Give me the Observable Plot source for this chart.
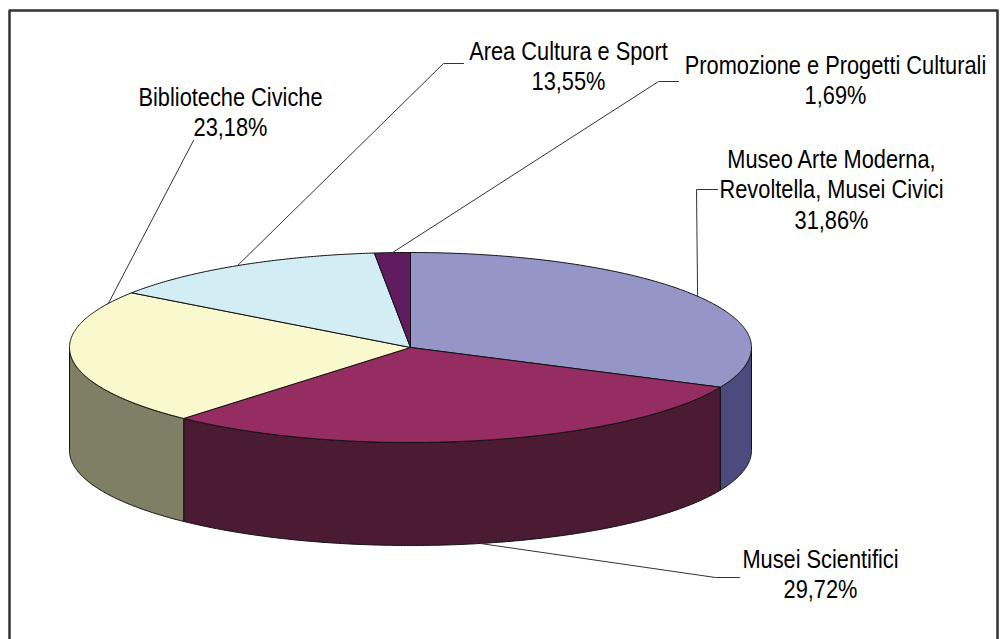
<!DOCTYPE html>
<html>
<head>
<meta charset="utf-8">
<script src="https://cdn.jsdelivr.net/npm/d3@7"></script>
<script src="https://cdn.jsdelivr.net/npm/@observablehq/plot@0.6"></script>
<style>
html, body { margin: 0; padding: 0; background: #fff; }
#chart { position: relative; width: 1005px; height: 639px; overflow: hidden; }
</style>
</head>
<body>
<div id="chart"></div>
<script>
// ---- data ----
const categories = [
  "Museo Arte Moderna,\nRevoltella, Musei Civici",
  "Musei Scientifici",
  "Biblioteche Civiche",
  "Area Cultura e Sport",
  "Promozione e Progetti Culturali"
];
const shares = [31.86, 29.72, 23.18, 13.55, 1.69];
const pctLabels = ["31,86%", "29,72%", "23,18%", "13,55%", "1,69%"];

// ---- styles ----
const topColors  = ["#9595C8", "#962D62", "#FAF9CE", "#D3EDF4", "#601C5E"];
const sideColors = ["#4B4B80", "#4B1A33", "#7F7F65", "#6A767A", "#300E2F"];

// ---- layout (pixels) ----
const W = 1005, H = 639;
const pie = {cx: 410, cy: 347, rx: 341, ry: 95, depth: 103};
const labelX = [831, 820, 230, 568, 835];
const labelY = [167, 567, 105, 59, 73];      // first baseline
const lineGap = 30.5;
const anchorFrac = [0.5, 0.5, 0.91, 0.5, 0.5];
const anchorBottom = [false, true, false, false, false];
const elbow = [[696, 189], [715, 577], [193, 140], [443, 63], [658, 81]];
const tail  = [[717, 189], [739, 577], null, [463, 63], [678, 81]];
const fontSize = 21.8, scaleY = 1.2;

// ---- geometry ----
const total = d3.sum(shares);
const cum = [0];
shares.forEach(v => cum.push(cum[cum.length - 1] + v / total));
const TAU = Math.PI * 2;
const pt = (t, dz = 0) => [pie.cx + pie.rx * Math.sin(t), pie.cy - pie.ry * Math.cos(t) + dz];
const arc = (a, b, dz = 0) => {
  const n = Math.max(2, Math.ceil(Math.abs(b - a) / (Math.PI / 360)));
  return d3.range(n + 1).map(k => pt(a + (b - a) * k / n, dz));
};

const topRows = [], sideRows = [];
shares.forEach((v, i) => {
  const a0 = cum[i] * TAU, a1 = cum[i + 1] * TAU;
  const poly = [[pie.cx, pie.cy], ...arc(a0, a1), [pie.cx, pie.cy]];
  poly.forEach(([x, y]) => topRows.push({id: i, x, y, fill: topColors[i]}));
  const s = Math.max(a0, Math.PI / 2), e = Math.min(a1, 3 * Math.PI / 2);
  if (s < e) {
    const side = [...arc(s, e), ...arc(e, s, pie.depth)];
    side.push(side[0]);
    side.forEach(([x, y]) => sideRows.push({id: i, x, y, fill: sideColors[i]}));
  }
});

const leaderRows = [];
shares.forEach((v, i) => {
  const t = (cum[i] + (cum[i + 1] - cum[i]) * anchorFrac[i]) * TAU;
  const p = pt(t, anchorBottom[i] ? pie.depth : 0);
  const pts = [p, elbow[i]];
  if (tail[i]) pts.push(tail[i]);
  pts.forEach(([x, y]) => leaderRows.push({id: i, x, y}));
});

const textRows = [];
categories.forEach((c, i) => {
  const lines = c.split("\n").concat(pctLabels[i]);
  lines.forEach((s, k) => textRows.push({x: labelX[i], y: labelY[i] + k * lineGap, text: s}));
});

const frameRows = [{x: 9, y: H + 5}, {x: 9, y: 10}, {x: 997, y: 10}, {x: 997, y: H + 5}];

const plot = Plot.plot({
  width: W, height: H, margin: 0,
  x: {domain: [0, W], range: [0, W], axis: null},
  y: {domain: [0, H], range: [0, H], axis: null},
  color: {type: "identity"},
  style: {background: "#fff"},
  marks: [
    Plot.line(frameRows, {x: "x", y: "y", stroke: "#333", strokeWidth: 2.5}),
    Plot.line(sideRows, {x: "x", y: "y", z: "id", fill: "fill", stroke: "#111", strokeWidth: 1, strokeLinejoin: "round"}),
    Plot.line(topRows, {x: "x", y: "y", z: "id", fill: "fill", stroke: "#111", strokeWidth: 1, strokeLinejoin: "round"}),
    Plot.line(leaderRows, {x: "x", y: "y", z: "id", stroke: "#333", strokeWidth: 1}),
    Plot.text(textRows, {x: "x", y: "y", text: "text", fontSize, fontFamily: "Liberation Sans, Arial, sans-serif",
      textAnchor: "middle", lineAnchor: "bottom", fill: "#000"})
  ]
});

plot.querySelectorAll('g[aria-label="text"] text').forEach(t => {
  const tr = t.getAttribute("transform");
  if (tr) t.setAttribute("transform", tr + ` scale(1,${scaleY})`);
});
document.getElementById("chart").appendChild(plot);
</script>
</body>
</html>
